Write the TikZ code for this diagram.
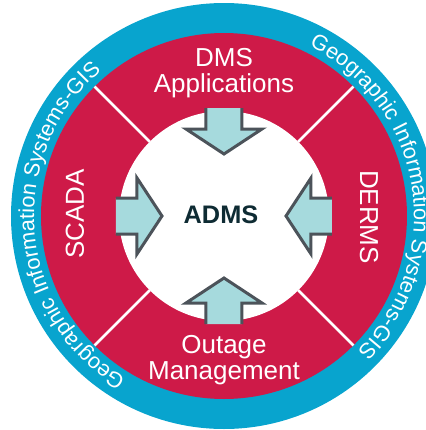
\documentclass[tikz,border=0pt]{standalone}
\usepackage{fontspec}
\setmainfont{Liberation Sans}
\usetikzlibrary{decorations.text}

\definecolor{gisblue}{RGB}{8,164,206}
\definecolor{ringred}{RGB}{206,26,72}
\definecolor{arrowfill}{RGB}{166,218,221}
\definecolor{arrowedge}{RGB}{76,83,90}
\definecolor{admsink}{RGB}{14,43,51}

\tikzset{every picture/.style={line width=0.75pt}}
\tikzset{
  ringlabel/.style={text=white, align=center, font=\fontsize{19.5}{19.5}\selectfont},
  inarrow/.style={fill=arrowfill, draw=arrowedge, line width=2.25},
  divider/.style={draw=white, line width=1.9},
  gistext/.style={decorate, decoration={text along path, text align=center,
      text={|\color{white}\fontsize{16.3}{16.3}\selectfont|Geographic Information Systems-GIS}}}
}

\begin{document}
\begin{tikzpicture}[x=0.75pt,y=0.75pt,yscale=-1,xscale=1]
	\useasboundingbox (0,0) rectangle (426,430);
	\coordinate (c) at (224,216);

	%Shape: Circle [id:dp4410928371052771] 
	\fill [gisblue] (c) circle (213);
	%Shape: Circle [id:dp1187264530951832] 
	\fill [ringred] (c) circle (183);
	%Shape: Circle [id:dp8026543197730215] 
	\fill [white] (c) circle (105);

	%Straight Lines [id:da3351808246117064] 
	\foreach \a in {45,135,225,315}
		\draw [divider] (c) ++(\a:105) -- ++(\a:78);

	%Curve Text [id:da5593017248610873] 
	\path [gistext] (c) ++(118:190) arc (118:233:190);
	%Curve Text [id:da0627719930481154] 
	\path [gistext] (c) ++(-67:190) arc (-67:49:190);

	%Shape: Down Arrow [id:dp2712846605119837] 
	\draw [inarrow] (242,108) -- (242,129) -- (262,129) -- (224,154) -- (186,129) -- (206,129) -- (206,108) ;
	%Shape: Up Arrow [id:dp6039127745516690] 
	\draw [inarrow] (206,324) -- (206,303) -- (186,303) -- (224,278) -- (262,303) -- (242,303) -- (242,324) ;
	%Shape: Right Arrow [id:dp9184407361252208] 
	\draw [inarrow] (116,198) -- (137,198) -- (137,178) -- (162,216) -- (137,254) -- (137,234) -- (116,234) ;
	%Shape: Left Arrow [id:dp3570018846627339] 
	\draw [inarrow] (332,198) -- (311,198) -- (311,178) -- (286,216) -- (311,254) -- (311,234) -- (332,234) ;

	% Text Node
	\draw (224,73) node [ringlabel] (dms) {DMS\\Applications};
	% Text Node
	\draw (224,360) node [ringlabel] (oms) {Outage\\Management};
	% Text Node
	\draw (75,214) node [ringlabel, rotate=90] (scada) {SCADA};
	% Text Node
	\draw (369,217) node [ringlabel, rotate=-90] (derms) {DERMS};
	% Text Node
	\draw (221,215) node [text=admsink, font=\fontsize{19}{19}\selectfont\bfseries] (adms) {ADMS};

\end{tikzpicture}
\end{document}
